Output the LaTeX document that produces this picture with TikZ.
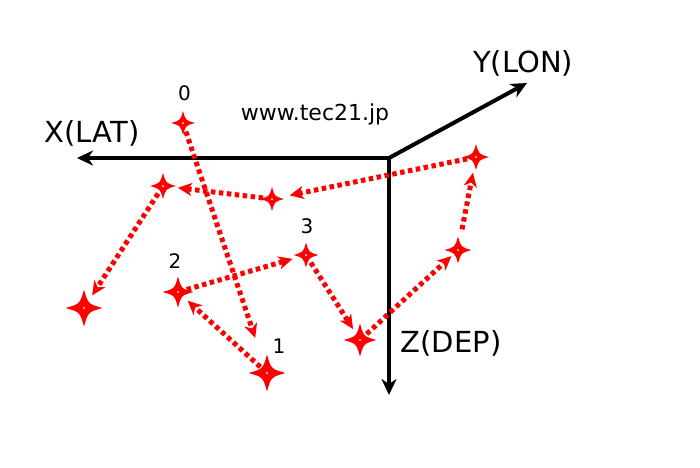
\documentclass[tikz,border=0pt]{standalone}
\usepackage{fontspec}
\setmainfont{DejaVu Sans}
\usetikzlibrary{arrows.meta}
\begin{document}
\begin{tikzpicture}[x=1pt, y=-1pt,
  spark/.style = {circle, draw=none, inner sep=0pt, minimum size=2*#1,
    path picture={
      \fill[red, shift={(path picture bounding box.center)}]
        (#1,0) .. controls (0.22*#1,0.22*#1) .. (0,#1)
        .. controls (-0.22*#1,0.22*#1) .. (-#1,0)
        .. controls (-0.22*#1,-0.22*#1) .. (0,-#1)
        .. controls (0.22*#1,-0.22*#1) .. (#1,0) -- cycle;
      \fill[white] (path picture bounding box.center) circle (1pt);}},
  track/.style = {red, line width=5pt, dash pattern=on 4.5pt off 3.5pt,
    -{Stealth[length=14pt,width=13pt,inset=4pt]}, shorten <=9pt, shorten >=14pt},
  axis/.style = {line width=4pt, -{Stealth[length=16pt,width=15pt,inset=5pt]}},
  axlabel/.style = {font=\fontsize{29}{31}\selectfont, inner sep=0pt, anchor=base},
  num/.style = {font=\fontsize{20}{22}\selectfont, inner sep=0pt, anchor=base}]
\useasboundingbox (0,0) rectangle (700,467);
\coordinate (o) at (389,158);
\coordinate (xend) at (77,158);
\coordinate (yend) at (527,83);
\coordinate (zend) at (389,395);
\draw[axis] (o) -- (xend);
\draw[axis] (o) -- (yend);
\draw[axis, shorten <=-2pt] (o) -- (zend);
\node[axlabel] (xlab) at (92,142) {X(LAT)};
\node[axlabel] (ylab) at (523,72) {Y(LON)};
\node[axlabel] (zlab) at (451,352) {Z(DEP)};
\node[font=\fontsize{22}{24}\selectfont, inner sep=0pt, anchor=base] (site) at (315,120) {www.tec21.jp};
\node[spark=12pt] (p0) at (183,123) {};
\node[spark=18.5pt] (p1) at (267,373) {};
\node[spark=15.5pt] (p2) at (178,292) {};
\node[spark=12.5pt] (p3) at (306,255) {};
\node[spark=16.5pt] (p4) at (360,340) {};
\node[spark=13.5pt] (p5) at (458,250) {};
\node[spark=13pt] (p6) at (476,157) {};
\node[spark=12pt] (p7) at (272,199) {};
\node[spark=13pt] (p8) at (163,186) {};
\node[spark=18.5pt] (p9) at (84,308) {};
\node[num] (n0) at (184.5,100) {0};
\node[num] (n1) at (279,353) {1};
\node[num] (n2) at (175,268) {2};
\node[num] (n3) at (307,233) {3};
\draw[track, shorten >=37pt] (p0.center) -- (p1.center);
\draw[track, shorten >=13pt] (p1.center) -- (p2.center);
\draw[track] (p2.center) -- (p3.center);
\draw[track, shorten >=13pt] (p3.center) -- (p4.center);
\draw[track, shorten >=9pt] (p4.center) -- (p5.center);
\draw[track, shorten <=21pt, shorten >=16pt] (p5.center) -- (p6.center);
\draw[track, shorten >=18pt] (p6.center) -- (p7.center);
\draw[track, shorten >=15pt] (p7.center) -- (p8.center);
\draw[track, shorten >=15pt] (p8.center) -- (p9.center);
\end{tikzpicture}
\end{document}
